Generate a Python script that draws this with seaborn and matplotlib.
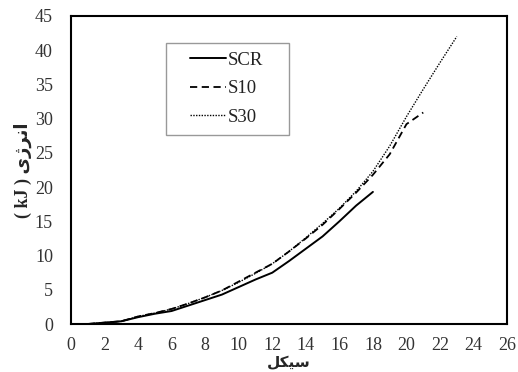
import matplotlib
matplotlib.use("Agg")
import matplotlib.pyplot as plt
from matplotlib.patches import Rectangle
import seaborn as sns
import pandas as pd

cycles_scr = [1, 2, 3, 4, 5, 6, 7, 8, 9, 10, 11, 12, 13, 14, 15, 16, 17, 18]
energy_scr = [0, 0.2, 0.4, 1.0, 1.5, 1.9, 2.7, 3.5, 4.3, 5.4, 6.5, 7.5, 9.2, 11.0, 12.8, 15.0, 17.3, 19.3]
cycles_s10 = [1, 2, 3, 4, 5, 6, 7, 8, 9, 10, 11, 12, 13, 14, 15, 16, 17, 18, 19, 20, 21]
energy_s10 = [0, 0.2, 0.4, 1.1, 1.6, 2.2, 3.0, 3.9, 4.9, 6.2, 7.5, 8.8, 10.6, 12.5, 14.5, 16.8, 19.2, 21.8, 24.8, 29.2, 30.9]
cycles_s30 = [1, 2, 3, 4, 5, 6, 7, 8, 9, 10, 11, 12, 13, 14, 15, 16, 17, 18, 19, 20, 21, 22, 23]
energy_s30 = [0, 0.2, 0.4, 1.1, 1.6, 2.2, 3.0, 3.9, 4.9, 6.1, 7.4, 8.8, 10.6, 12.6, 14.7, 16.9, 19.4, 22.3, 26.0, 30.3, 34.3, 38.2, 42.0]
series = ["SCR", "S10", "S30"]

x_ticks = list(range(0, 27, 2))
y_ticks = list(range(0, 46, 5))

df = pd.concat([
    pd.DataFrame({"cycle": cycles_scr, "energy": energy_scr, "series": "SCR"}),
    pd.DataFrame({"cycle": cycles_s10, "energy": energy_s10, "series": "S10"}),
    pd.DataFrame({"cycle": cycles_s30, "energy": energy_s30, "series": "S30"}),
])

sns.set_style("white")
plt.rcParams["font.family"] = ["Liberation Serif", "DejaVu Sans"]

fig, ax = plt.subplots(figsize=(5.18, 3.72), dpi=100)
fig.subplots_adjust(left=0.137, right=0.979, top=0.957, bottom=0.129)

styles = {"SCR": "-", "S10": (0, (4, 2.5)), "S30": (0, (1, 1))}
widths = {"SCR": 1.4, "S10": 1.3, "S30": 1.0}
for s in series:
    sub = df[df["series"] == s]
    sns.lineplot(data=sub, x="cycle", y="energy", ax=ax, color="black",
                 linestyle=styles[s], linewidth=widths[s], label=s)

ax.set_xlim(0, 26)
ax.set_ylim(0, 45)
ax.set_xticks(x_ticks)
ax.set_yticks(y_ticks)
ax.tick_params(axis="x", length=0, labelsize=13, colors="#333333", pad=9)
ax.tick_params(axis="y", length=0, labelsize=13, colors="#333333", pad=13)
for sp in ax.spines.values():
    sp.set_color("black")
    sp.set_linewidth(1.5)

# Persian labels, pre-shaped (presentation forms) in visual order
xlabel = "\ufede\ufb91\ufbff\ufeb3"          # سیکل
ylabel = "( kJ ) " + "\ufbfc\ufb8a\ufeae\ufee7\ufe8d"  # ( kJ ) انرژی
ax.set_xlabel(xlabel, fontsize=11, fontweight="bold", labelpad=1,
              family=["DejaVu Sans"])
ax.set_ylabel(ylabel, fontsize=13, fontweight="bold", labelpad=2,
              family=["Liberation Serif", "DejaVu Sans"])

# legend box
ax.add_patch(Rectangle((0.218, 0.614), 0.282, 0.298, transform=ax.transAxes,
                       facecolor="white", edgecolor="#999999", linewidth=1.0,
                       zorder=4))
leg = ax.legend(loc="upper left", bbox_to_anchor=(0.272, 0.885), frameon=False,
                fontsize=13.5, handlelength=1.95, handletextpad=0.1,
                labelspacing=0.62, borderpad=0, borderaxespad=0)
leg.set_zorder(5)
for t in leg.get_texts():
    t.set_color("#222222")

fig.savefig("out.png", dpi=100)
